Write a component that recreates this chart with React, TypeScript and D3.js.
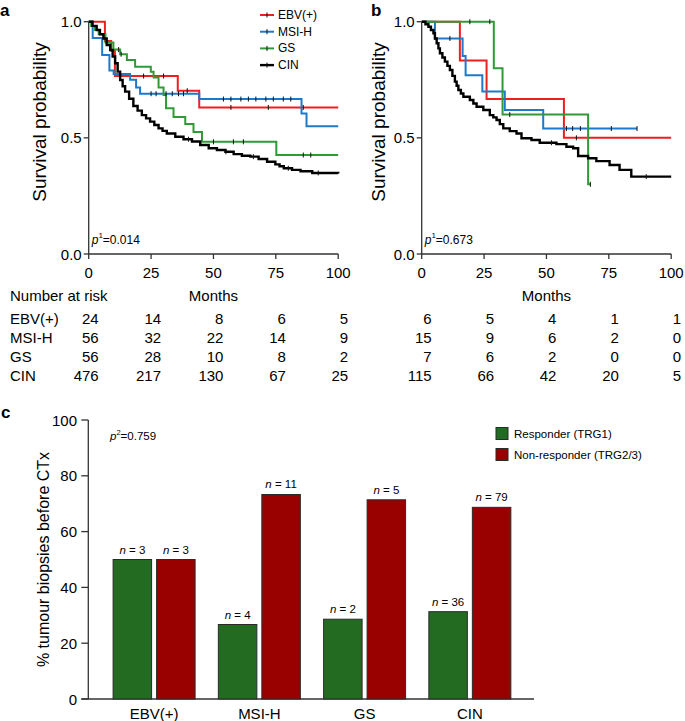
import React from 'react';
import * as d3 from 'd3';

type Pt = [number, number];

const monthTicks = [0, 25, 50, 75, 100];
const survTicks = [0, 0.5, 1.0];
const groups = ['EBV(+)', 'MSI-H', 'GS', 'CIN'];
const lineColors = ['#ee1f1f', '#1e7ac9', '#2f9a36', '#000000'];

// Panel a – Kaplan–Meier (time in months, survival probability)
const ebvA: Pt[] = [[0, 1], [6.5, 0.917], [9, 0.875], [10.5, 0.766], [35.7, 0.703], [44.3, 0.631], [100, 0.631]];
const msiA: Pt[] = [[0, 1], [1.6, 0.93], [5.4, 0.857], [8.3, 0.79], [10, 0.775], [16.6, 0.75], [19, 0.717], [20.6, 0.69], [44.3, 0.667], [85.3, 0.605], [87.3, 0.55], [100, 0.55]];
const gsA: Pt[] = [[0, 1], [1, 0.982], [2.5, 0.964], [4, 0.946], [6.7, 0.91], [9.9, 0.88], [12.6, 0.86], [15.3, 0.835], [18.6, 0.806], [24.9, 0.785], [26, 0.76], [28, 0.717], [30, 0.684], [31, 0.627], [34, 0.59], [38.7, 0.56], [42, 0.525], [45.4, 0.483], [75.2, 0.426], [100, 0.426]];
const cinA: Pt[] = [[0, 1], [1.5, 0.982], [3.2, 0.964], [4.5, 0.946], [5.9, 0.928], [7.2, 0.9], [8.6, 0.878], [9.6, 0.85], [10.6, 0.821], [11.6, 0.785], [12.6, 0.749], [13.6, 0.722], [14.6, 0.699], [16.2, 0.668], [17.9, 0.637], [19.6, 0.617], [21.3, 0.598], [23, 0.584], [24.6, 0.57], [26.3, 0.555], [28, 0.541], [29.6, 0.53], [31.3, 0.519], [34.7, 0.505], [38, 0.494], [41.4, 0.484], [44.7, 0.469], [48.1, 0.455], [51.4, 0.448], [54.8, 0.44], [58.1, 0.43], [61.4, 0.423], [64.8, 0.419], [68.1, 0.409], [71.5, 0.397], [74.8, 0.386], [76.5, 0.378], [78.2, 0.369], [81.5, 0.362], [84.9, 0.356], [89.6, 0.349], [100, 0.347]];

const ebvACens = [22, 30, 39.5, 57, 72, 86];
const msiACens = [25, 27, 31, 33.5, 36, 38, 54, 57, 61, 64, 67, 71, 74, 78, 81];
const gsACens = [12, 13, 50, 58, 62, 86, 89];
const cinACens = [40, 55, 66, 80, 92];

// Panel b – Kaplan–Meier
const ebvB: Pt[] = [[0, 1], [15.3, 0.833], [26, 0.667], [57, 0.5], [100, 0.5]];
const msiB: Pt[] = [[0, 1], [5.3, 0.928], [16.4, 0.852], [17.6, 0.77], [24.3, 0.699], [33.3, 0.62], [48.7, 0.54], [86.3, 0.54]];
const gsB: Pt[] = [[0, 1], [28.9, 0.8], [32.4, 0.6], [66.7, 0.3], [67.6, 0.3]];
const cinB: Pt[] = [[0, 1], [1.5, 0.989], [2.7, 0.978], [3.7, 0.964], [4.7, 0.95], [5.3, 0.928], [6, 0.907], [6.7, 0.885], [7.3, 0.864], [8.3, 0.846], [9.3, 0.828], [10.3, 0.81], [11.3, 0.792], [12.3, 0.767], [13.3, 0.742], [14, 0.724], [14.7, 0.706], [15.7, 0.691], [16.7, 0.677], [19.3, 0.663], [20.7, 0.648], [22, 0.634], [24.7, 0.62], [27.3, 0.598], [28.7, 0.588], [30, 0.577], [31.3, 0.559], [32.7, 0.541], [35.3, 0.529], [38, 0.519], [40, 0.498], [44, 0.491], [47.3, 0.479], [54, 0.473], [58, 0.462], [60.7, 0.455], [62.7, 0.422], [66.7, 0.412], [70, 0.4], [75.3, 0.383], [79.3, 0.362], [84, 0.333], [100, 0.333]];

const ebvBCens = [62];
const msiBCens = [11.3, 58, 60.5, 63.6, 76, 86.3];
const gsBCens = [19.3, 27.3, 35.3, 67.6];
const cinBCens = [52, 90];

// Number at risk
const riskA = [[24, 14, 8, 6, 5], [56, 32, 22, 14, 9], [56, 28, 10, 8, 2], [476, 217, 130, 67, 25]];
const riskB = [[6, 5, 4, 1, 1], [15, 9, 6, 2, 0], [7, 6, 2, 0, 0], [115, 66, 42, 20, 5]];

// Panel c – % tumour biopsies before CTx
const responderPct = [50, 26.7, 28.6, 31.3];
const nonResponderPct = [50, 73.3, 71.4, 68.7];
const responderN = [3, 4, 2, 36];
const nonResponderN = [3, 11, 5, 79];
const pctTicks = [0, 20, 40, 60, 80, 100];
const barKeys = ['Responder (TRG1)', 'Non-responder (TRG2/3)'];
const barColors = ['#246b22', '#990000'];

const FONT = '"Liberation Sans", Arial, Helvetica, sans-serif';
const AXIS = '#333';

function survAt(curve: Pt[], t: number) {
  let s = curve[0][1];
  for (const p of curve) if (p[0] <= t) s = p[1];
  return s;
}

function KMPanel(props: {
  x0: number; curves: Pt[][]; cens: number[][]; pText: string; letter: string; letterX: number; ylabX: number;
}) {
  const { x0, curves, cens, pText, letter, letterX, ylabX } = props;
  const x = d3.scaleLinear().domain([0, 100]).range([x0, x0 + 249.5]);
  const y = d3.scaleLinear().domain([0, 1]).range([254, 21.7]);
  const line = d3.line<Pt>().x(d => x(d[0])).y(d => y(d[1])).curve(d3.curveStepAfter);
  return (
    <g fontFamily={FONT}>
      <text x={letterX} y={16} fontSize={17} fontWeight="bold">{letter}</text>
      <text transform={`translate(${ylabX},122) rotate(-90)`} textAnchor="middle" dominantBaseline="central" fontSize={19}>Survival probability</text>
      {/* axes */}
      <line x1={x(0)} x2={x(0)} y1={y(0)} y2={y(1)} stroke={AXIS} strokeWidth={1.3} />
      <line x1={x(0)} x2={x(100)} y1={y(0)} y2={y(0)} stroke={AXIS} strokeWidth={1.3} />
      {survTicks.map(t => (
        <g key={t}>
          <line x1={x(0) - 5} x2={x(0)} y1={y(t)} y2={y(t)} stroke={AXIS} strokeWidth={1.3} />
          <text x={x(0) - 7} y={y(t)} textAnchor="end" dominantBaseline="central" fontSize={15}>{t.toFixed(1)}</text>
        </g>
      ))}
      {monthTicks.map(t => (
        <g key={t}>
          <line x1={x(t)} x2={x(t)} y1={y(0)} y2={y(0) + 5} stroke={AXIS} strokeWidth={1.3} />
          <text x={x(t)} y={272} textAnchor="middle" dominantBaseline="central" fontSize={15}>{t}</text>
        </g>
      ))}
      <text x={x(50)} y={295} textAnchor="middle" dominantBaseline="central" fontSize={15}>Months</text>
      {/* curves */}
      {curves.map((c, i) => (
        <path key={i} d={line(c) || ''} fill="none" stroke={lineColors[i]} strokeWidth={i === 3 ? 2.4 : 2} strokeLinejoin="miter" />
      ))}
      {cens.map((arr, i) => arr.map((t, j) => (
        <line key={`${i}-${j}`} x1={x(t)} x2={x(t)} y1={y(survAt(curves[i], t)) - 2.5} y2={y(survAt(curves[i], t)) + 2.5} stroke="#111" strokeWidth={1} />
      )))}
      <text x={x(0) + 3} y={240} dominantBaseline="central" fontSize={12}>
        <tspan fontStyle="italic">p</tspan>
        <tspan fontSize={8} dy={-5}>1</tspan>
        <tspan dy={5}>{pText}</tspan>
      </text>
    </g>
  );
}

function RiskTable(props: { x0: number; risk: number[][]; labels: boolean }) {
  const { x0, risk, labels } = props;
  const x = d3.scaleLinear().domain([0, 100]).range([x0, x0 + 249.5]);
  const rowY = d3.scaleLinear().domain([0, 3]).range([318.5, 375.5]);
  return (
    <g fontFamily={FONT} fontSize={15}>
      {labels && <text x={10} y={295} dominantBaseline="central">Number at risk</text>}
      {risk.map((row, i) => (
        <g key={i}>
          {labels && <text x={10} y={rowY(i)} dominantBaseline="central">{groups[i]}</text>}
          {row.map((v, j) => (
            <text key={j} x={x(monthTicks[j]) + 10} y={rowY(i)} textAnchor="end" dominantBaseline="central">{v}</text>
          ))}
        </g>
      ))}
    </g>
  );
}

function BarPanel() {
  const y = d3.scaleLinear().domain([0, 100]).range([699, 420]);
  const axisX = 88.3;
  const x0 = d3.scaleBand<string>().domain(groups).range([101.5, 522.5]);
  const x1 = d3.scaleBand<string>().domain(barKeys).range([11.6, 93.6]).paddingInner(0.115);
  const vals = [responderPct, nonResponderPct];
  const ns = [responderN, nonResponderN];
  return (
    <g fontFamily={FONT}>
      <text x={1} y={418} fontSize={17} fontWeight="bold">c</text>
      <text transform={`translate(43,${(y(0) + y(100)) / 2}) rotate(-90)`} textAnchor="middle" dominantBaseline="central" fontSize={16}>% tumour biopsies before CTx</text>
      <line x1={axisX} x2={axisX} y1={y(0)} y2={y(100)} stroke={AXIS} strokeWidth={1.3} />
      <line x1={axisX - 7} x2={534} y1={y(0)} y2={y(0)} stroke={AXIS} strokeWidth={1.3} />
      {pctTicks.map(t => (
        <g key={t}>
          <line x1={axisX - 7} x2={axisX} y1={y(t)} y2={y(t)} stroke={AXIS} strokeWidth={1.3} />
          <text x={77} y={y(t)} textAnchor="end" dominantBaseline="central" fontSize={15}>{t}</text>
        </g>
      ))}
      {groups.map((g, gi) => (
        <g key={g}>
          {barKeys.map((k, ki) => {
            const bx = (x0(g) || 0) + (x1(k) || 0);
            const bw = x1.bandwidth();
            const v = vals[ki][gi];
            return (
              <g key={k}>
                <rect x={bx} y={y(v)} width={bw} height={y(0) - y(v)} fill={barColors[ki]} stroke="#2a2a2a" strokeWidth={1} />
                <text x={bx + bw / 2} y={y(v) - 6} textAnchor="middle" fontSize={11.5}>
                  <tspan fontStyle="italic">n</tspan>
                  <tspan>{` = ${ns[ki][gi]}`}</tspan>
                </text>
              </g>
            );
          })}
          <text x={(x0(g) || 0) + x0.bandwidth() / 2} y={713} textAnchor="middle" dominantBaseline="central" fontSize={15}>{g}</text>
        </g>
      ))}
      <text x={110} y={436} dominantBaseline="central" fontSize={11.5}>
        <tspan fontStyle="italic">p</tspan>
        <tspan fontSize={7.5} dy={-4.5}>2</tspan>
        <tspan dy={4.5}>=0.759</tspan>
      </text>
      {barKeys.map((k, i) => (
        <g key={k}>
          <rect x={496} y={427.5 + i * 21} width={12} height={12} fill={barColors[i]} stroke="#2a2a2a" strokeWidth={1} />
          <text x={514} y={433.5 + i * 21} dominantBaseline="central" fontSize={11.5}>{k}</text>
        </g>
      ))}
    </g>
  );
}

export default function App() {
  const legendX = 260;
  return (
    <svg width={685} height={721} style={{ position: 'absolute', left: 0, top: 0, background: '#fff' }}>
      <rect width={685} height={721} fill="#fff" />
      <KMPanel x0={88.7} curves={[ebvA, msiA, gsA, cinA]} cens={[ebvACens, msiACens, gsACens, cinACens]} pText="=0.014" letter="a" letterX={0} ylabX={39} />
      <KMPanel x0={421.7} curves={[ebvB, msiB, gsB, cinB]} cens={[ebvBCens, msiBCens, gsBCens, cinBCens]} pText="=0.673" letter="b" letterX={371} ylabX={378} />
      <RiskTable x0={88.7} risk={riskA} labels={true} />
      <RiskTable x0={421.7} risk={riskB} labels={false} />
      <g fontFamily={FONT}>
        {groups.map((g, i) => (
          <g key={g}>
            <line x1={legendX} x2={legendX + 14} y1={15 + i * 16.7} y2={15 + i * 16.7} stroke={lineColors[i]} strokeWidth={i === 3 ? 2.4 : 2} />
            <line x1={legendX + 7} x2={legendX + 7} y1={12.5 + i * 16.7} y2={17.5 + i * 16.7} stroke="#111" strokeWidth={1} />
            <text x={legendX + 18} y={15 + i * 16.7} dominantBaseline="central" fontSize={12}>{g}</text>
          </g>
        ))}
      </g>
      <BarPanel />
    </svg>
  );
}
